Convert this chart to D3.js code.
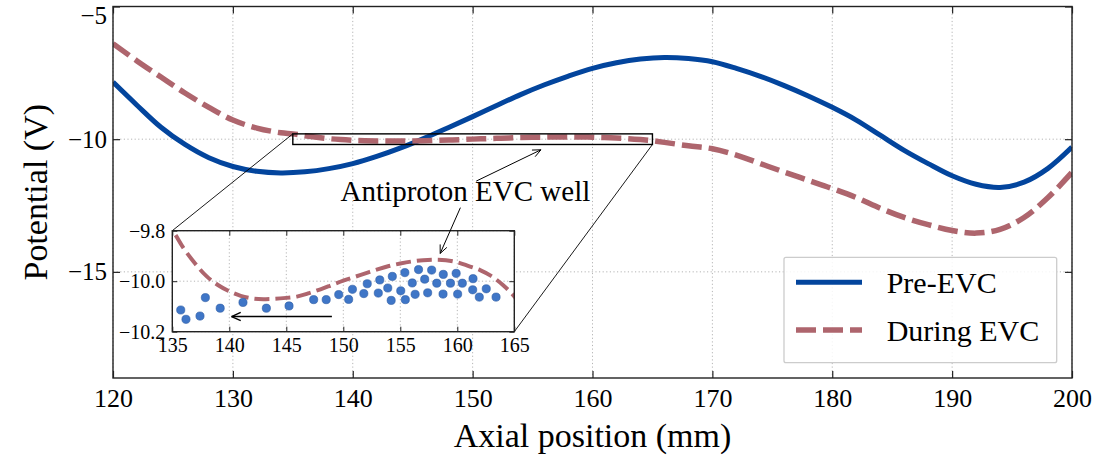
<!DOCTYPE html>
<html><head><meta charset="utf-8">
<script src="https://cdn.jsdelivr.net/npm/d3@7"></script>
<style>
body{margin:0;background:#fff}
svg{display:block}
text{font-family:"Liberation Serif","Times New Roman",serif;fill:#000}
</style>
</head><body>
<svg id="chart" width="1111" height="467"></svg>
<script>
// ---------- data ----------
const xTicks = [120,130,140,150,160,170,180,190,200];
const yTicks = [-15,-10,-5];
const insetXTicks = [135,140,145,150,155,160,165];
const insetYTicks = [-10.2,-10.0,-9.8];

const preEvcPositions = [120,122,124,126,128,130,132,134,136,138,140,142,144,146,148,150,152,154,156,158,160,162,164,166,168,170,172,174,176,178,180,182,184,186,188,190,192,194,196,198,200];
const preEvcPotential = [-7.85,-8.72,-9.55,-10.2,-10.7,-11.03,-11.21,-11.27,-11.23,-11.11,-10.92,-10.65,-10.33,-9.96,-9.56,-9.15,-8.73,-8.32,-7.95,-7.62,-7.33,-7.12,-6.98,-6.92,-6.96,-7.08,-7.33,-7.63,-7.98,-8.37,-8.8,-9.28,-9.85,-10.42,-10.92,-11.38,-11.7,-11.82,-11.62,-11.1,-10.3];

const duringEvcPositions = [120,122,124,126,128,130,132,134,135,136,137,138,139,140,141,142,143,144,145,146,147,148,149,150,151,152,153,154,155,156,157,158,159,160,161,162,163,164,165,166,168,170,172,174,176,178,180,182,184,186,188,190,192,194,196,198,200];
const duringEvcPotential = [-6.4,-7.05,-7.66,-8.26,-8.8,-9.28,-9.58,-9.76,-9.8,-9.87,-9.93,-9.98,-10.015,-10.04,-10.058,-10.068,-10.071,-10.07,-10.066,-10.06,-10.047,-10.032,-10.015,-9.998,-9.983,-9.968,-9.953,-9.94,-9.93,-9.922,-9.917,-9.915,-9.917,-9.925,-9.94,-9.956,-9.98,-10.015,-10.06,-10.12,-10.25,-10.36,-10.6,-10.92,-11.24,-11.55,-11.86,-12.2,-12.6,-12.95,-13.22,-13.44,-13.54,-13.4,-12.95,-12.2,-11.25];

const wellDotPositions = [135.74,136.2,137.43,137.9,139.2,141.2,143.25,145.24,147.4,148.5,149.6,150.47,150.8,151.8,152.1,153.07,153.2,153.9,154.2,154.3,155.04,155.4,155.44,156.05,156.3,156.6,157.14,157.4,157.75,158.2,158.77,158.75,159.4,159.9,160.03,160.44,161.38,161.35,161.93,162.54,163.4];
const wellDotPotential = [-10.114,-10.151,-10.138,-10.065,-10.107,-10.084,-10.107,-10.098,-10.073,-10.073,-10.053,-10.072,-10.032,-10.049,-10.01,-10.047,-9.995,-10.027,-10.076,-9.981,-10.038,-9.966,-10.073,-10.007,-10.052,-9.954,-9.992,-10.046,-9.956,-10.008,-9.973,-10.051,-10.008,-9.969,-10.051,-10.008,-9.99,-10.034,-10.063,-10.03,-10.063];

const seriesNames = ["Pre-EVC","During EVC"];
const zoomBoxX = [135,165];
const zoomBoxY = [-10.2,-9.8];
const annotationText = "Antiproton EVC well";
const annotationAnchor = [149.4,-12.33];          // text centre/baseline (main data coords)
const annotationMainArrow = [[150.3,-11.58],[155.7,-10.4]];   // main coords
const annotationInsetArrowStart = [148.98,-12.58];          // main coords
const annotationInsetArrowEnd = [158.5,-9.89];              // inset coords
const driftArrow = [[149.0,-10.14],[140.2,-10.14]];         // inset coords

// ---------- styles ----------
const BLUE = "#03459d", ROSE = "#ae656d", DOT = "#3f76c7", DOTEDGE = "#2b5aa3";
const GRID = "#b5b5b5";

const svg = d3.select("#chart");
const M = {left:113, right:1072, top:6.5, bottom:378};

const x = d3.scaleLinear().domain([120,200]).range([M.left,M.right]);
const y = d3.scaleLinear().domain([-19,-5]).range([M.bottom,M.top]);

svg.append("defs").append("clipPath").attr("id","mainClip")
  .append("rect").attr("x",M.left).attr("y",M.top)
  .attr("width",M.right-M.left).attr("height",M.bottom-M.top);

// gridlines
const grid = svg.append("g");
grid.selectAll(".gx").data(xTicks).join("line")
  .attr("x1",d=>x(d)).attr("x2",d=>x(d)).attr("y1",M.top).attr("y2",M.bottom)
  .attr("stroke",GRID).attr("stroke-width",1).attr("stroke-dasharray","1.2,2.4");
grid.selectAll(".gy").data(yTicks).join("line")
  .attr("y1",d=>y(d)).attr("y2",d=>y(d)).attr("x1",M.left).attr("x2",M.right)
  .attr("stroke",GRID).attr("stroke-width",1).attr("stroke-dasharray","1.2,2.4");

// curves
const pre = preEvcPositions.map((p,i)=>[p,preEvcPotential[i]]);
const dur = duringEvcPositions.map((p,i)=>[p,duringEvcPotential[i]]);
const lineMain = d3.line().x(d=>x(d[0])).y(d=>y(d[1])).curve(d3.curveCatmullRom.alpha(0.5));
const plot = svg.append("g").attr("clip-path","url(#mainClip)");
plot.append("path").datum(pre).attr("d",lineMain).attr("fill","none")
  .attr("stroke",BLUE).attr("stroke-width",5);
plot.append("path").datum(dur).attr("d",lineMain).attr("fill","none")
  .attr("stroke",ROSE).attr("stroke-width",5.5).attr("stroke-dasharray","20,7");

// axes (inward ticks)
const ax = svg.append("g");
const xAxisG = ax.append("g").attr("transform",`translate(0,${M.bottom})`)
  .call(d3.axisBottom(x).tickValues(xTicks).tickFormat(d3.format("d")).tickSize(-7).tickPadding(11));
ax.append("g").attr("transform",`translate(0,${M.top})`)
  .call(d3.axisTop(x).tickValues(xTicks).tickFormat("").tickSize(-7));
const yAxisG = ax.append("g").attr("transform",`translate(${M.left},0)`)
  .call(d3.axisLeft(y).tickValues(yTicks).tickFormat(d3.format("d")).tickSize(-7).tickPadding(6));
ax.append("g").attr("transform",`translate(${M.right},0)`)
  .call(d3.axisRight(y).tickValues(yTicks).tickFormat("").tickSize(-7));
ax.selectAll(".domain").remove();
ax.selectAll(".tick line").attr("stroke","#222").attr("stroke-width",1.2);
ax.selectAll(".tick text").attr("font-family","Liberation Serif, serif").attr("fill","#000");
xAxisG.selectAll(".tick text").attr("font-size",26);
yAxisG.selectAll(".tick text").attr("font-size",25);
// keep the top label inside the picture
yAxisG.selectAll(".tick text").filter(d=>d===-5).attr("dy","0.66em");
svg.append("rect").attr("x",M.left).attr("y",M.top).attr("width",M.right-M.left).attr("height",M.bottom-M.top)
  .attr("fill","none").attr("stroke","#222").attr("stroke-width",1.4);

// axis titles
svg.append("text").attr("x",(M.left+M.right)/2).attr("y",447).attr("text-anchor","middle")
  .attr("font-size",34).text("Axial position (mm)");
svg.append("text").attr("transform",`translate(47,${(M.top+M.bottom)/2}) rotate(-90)`)
  .attr("text-anchor","middle").attr("font-size",34).text("Potential (V)");

// zoom indicator rectangle
svg.append("rect").attr("x",x(zoomBoxX[0])).attr("y",y(zoomBoxY[1]))
  .attr("width",x(zoomBoxX[1])-x(zoomBoxX[0])).attr("height",y(zoomBoxY[0])-y(zoomBoxY[1]))
  .attr("fill","none").attr("stroke","#000").attr("stroke-width",1.4);

// ---------- inset ----------
const I = {left:172.3, right:514.3, top:230.7, bottom:331.7};
const ix = d3.scaleLinear().domain(zoomBoxX).range([I.left,I.right]);
const iy = d3.scaleLinear().domain(zoomBoxY).range([I.bottom,I.top]);

// connectors
const conn = svg.append("g").attr("stroke","#000").attr("stroke-width",0.9);
conn.append("line").attr("x1",x(zoomBoxX[0])).attr("y1",y(zoomBoxY[1])).attr("x2",ix(zoomBoxX[0])).attr("y2",iy(zoomBoxY[1]));
conn.append("line").attr("x1",x(zoomBoxX[1])).attr("y1",y(zoomBoxY[0])).attr("x2",ix(zoomBoxX[1])).attr("y2",iy(zoomBoxY[0]));

svg.select("defs").append("clipPath").attr("id","insetClip")
  .append("rect").attr("x",I.left).attr("y",I.top).attr("width",I.right-I.left).attr("height",I.bottom-I.top);

const inset = svg.append("g");
inset.append("rect").attr("x",I.left).attr("y",I.top).attr("width",I.right-I.left).attr("height",I.bottom-I.top)
  .attr("fill","#fff");
inset.selectAll(".igx").data(insetXTicks).join("line")
  .attr("x1",d=>ix(d)).attr("x2",d=>ix(d)).attr("y1",I.top).attr("y2",I.bottom)
  .attr("stroke",GRID).attr("stroke-width",1).attr("stroke-dasharray","1.2,2.4");
inset.selectAll(".igy").data(insetYTicks).join("line")
  .attr("y1",d=>iy(d)).attr("y2",d=>iy(d)).attr("x1",I.left).attr("x2",I.right)
  .attr("stroke",GRID).attr("stroke-width",1).attr("stroke-dasharray","1.2,2.4");

const lineInset = d3.line().x(d=>ix(d[0])).y(d=>iy(d[1])).curve(d3.curveCatmullRom.alpha(0.5));
const ip = inset.append("g").attr("clip-path","url(#insetClip)");
ip.append("path").datum(dur.filter(d=>d[0]>=134&&d[0]<=166)).attr("d",lineInset).attr("fill","none")
  .attr("stroke",ROSE).attr("stroke-width",4).attr("stroke-dasharray","15,6");
ip.selectAll("circle").data(wellDotPositions.map((p,i)=>[p,wellDotPotential[i]])).join("circle")
  .attr("cx",d=>ix(d[0])).attr("cy",d=>iy(d[1])).attr("r",4.1)
  .attr("fill",DOT).attr("stroke",DOTEDGE).attr("stroke-width",0.6);

const iax = inset.append("g");
iax.append("g").attr("transform",`translate(0,${I.bottom})`)
  .call(d3.axisBottom(ix).tickValues(insetXTicks).tickFormat(d3.format("d")).tickSize(-5).tickPadding(6));
iax.append("g").attr("transform",`translate(0,${I.top})`)
  .call(d3.axisTop(ix).tickValues(insetXTicks).tickFormat("").tickSize(-5));
iax.append("g").attr("transform",`translate(${I.left},0)`)
  .call(d3.axisLeft(iy).tickValues(insetYTicks).tickFormat(d3.format(".1f")).tickSize(-5).tickPadding(7));
iax.append("g").attr("transform",`translate(${I.right},0)`)
  .call(d3.axisRight(iy).tickValues(insetYTicks).tickFormat("").tickSize(-5));
iax.selectAll(".domain").remove();
iax.selectAll(".tick line").attr("stroke","#222").attr("stroke-width",1);
iax.selectAll(".tick text").attr("font-size",20).attr("font-family","Liberation Serif, serif").attr("fill","#000");
inset.append("rect").attr("x",I.left).attr("y",I.top).attr("width",I.right-I.left).attr("height",I.bottom-I.top)
  .attr("fill","none").attr("stroke","#222").attr("stroke-width",1.4);

// ---------- arrows ----------
function arrow(g,x1,y1,x2,y2,head,w){
  g.append("line").attr("x1",x1).attr("y1",y1).attr("x2",x2).attr("y2",y2)
    .attr("stroke","#000").attr("stroke-width",w);
  const a = Math.atan2(y2-y1,x2-x1), s = 0.42;
  [a+Math.PI-s, a+Math.PI+s].forEach(t=>{
    g.append("line").attr("x1",x2).attr("y1",y2)
      .attr("x2",x2+head*Math.cos(t)).attr("y2",y2+head*Math.sin(t))
      .attr("stroke","#000").attr("stroke-width",w);
  });
}
const arr = svg.append("g");
arrow(arr, ix(driftArrow[0][0]),iy(driftArrow[0][1]), ix(driftArrow[1][0]),iy(driftArrow[1][1]), 10, 1.4);
arrow(arr, x(annotationMainArrow[0][0]),y(annotationMainArrow[0][1]), x(annotationMainArrow[1][0]),y(annotationMainArrow[1][1]), 9, 1);
arrow(arr, x(annotationInsetArrowStart[0]),y(annotationInsetArrowStart[1]), ix(annotationInsetArrowEnd[0]),iy(annotationInsetArrowEnd[1]), 9, 1);

svg.append("text").attr("x",x(annotationAnchor[0])).attr("y",y(annotationAnchor[1]))
  .attr("text-anchor","middle").attr("font-size",29).text(annotationText);

// ---------- legend ----------
const lg = svg.append("g");
lg.append("rect").attr("x",784).attr("y",257.3).attr("width",272.7).attr("height",105.4).attr("rx",2)
  .attr("fill","#fff").attr("fill-opacity",0.85).attr("stroke","#cccccc").attr("stroke-width",1.3);
const legendItems = seriesNames.map((n,i)=>({name:n,color:i?ROSE:BLUE,dash:i?"20,7":null,w:i?5.5:5}));
legendItems.forEach((d,i)=>{
  const cy = 282.3 + i*47.7;
  lg.append("line").attr("x1",796).attr("x2",862).attr("y1",cy).attr("y2",cy)
    .attr("stroke",d.color).attr("stroke-width",d.w).attr("stroke-dasharray",d.dash);
  lg.append("text").attr("x",886.7).attr("y",cy+11).attr("font-size",30).text(d.name);
});
</script>
</body></html>
